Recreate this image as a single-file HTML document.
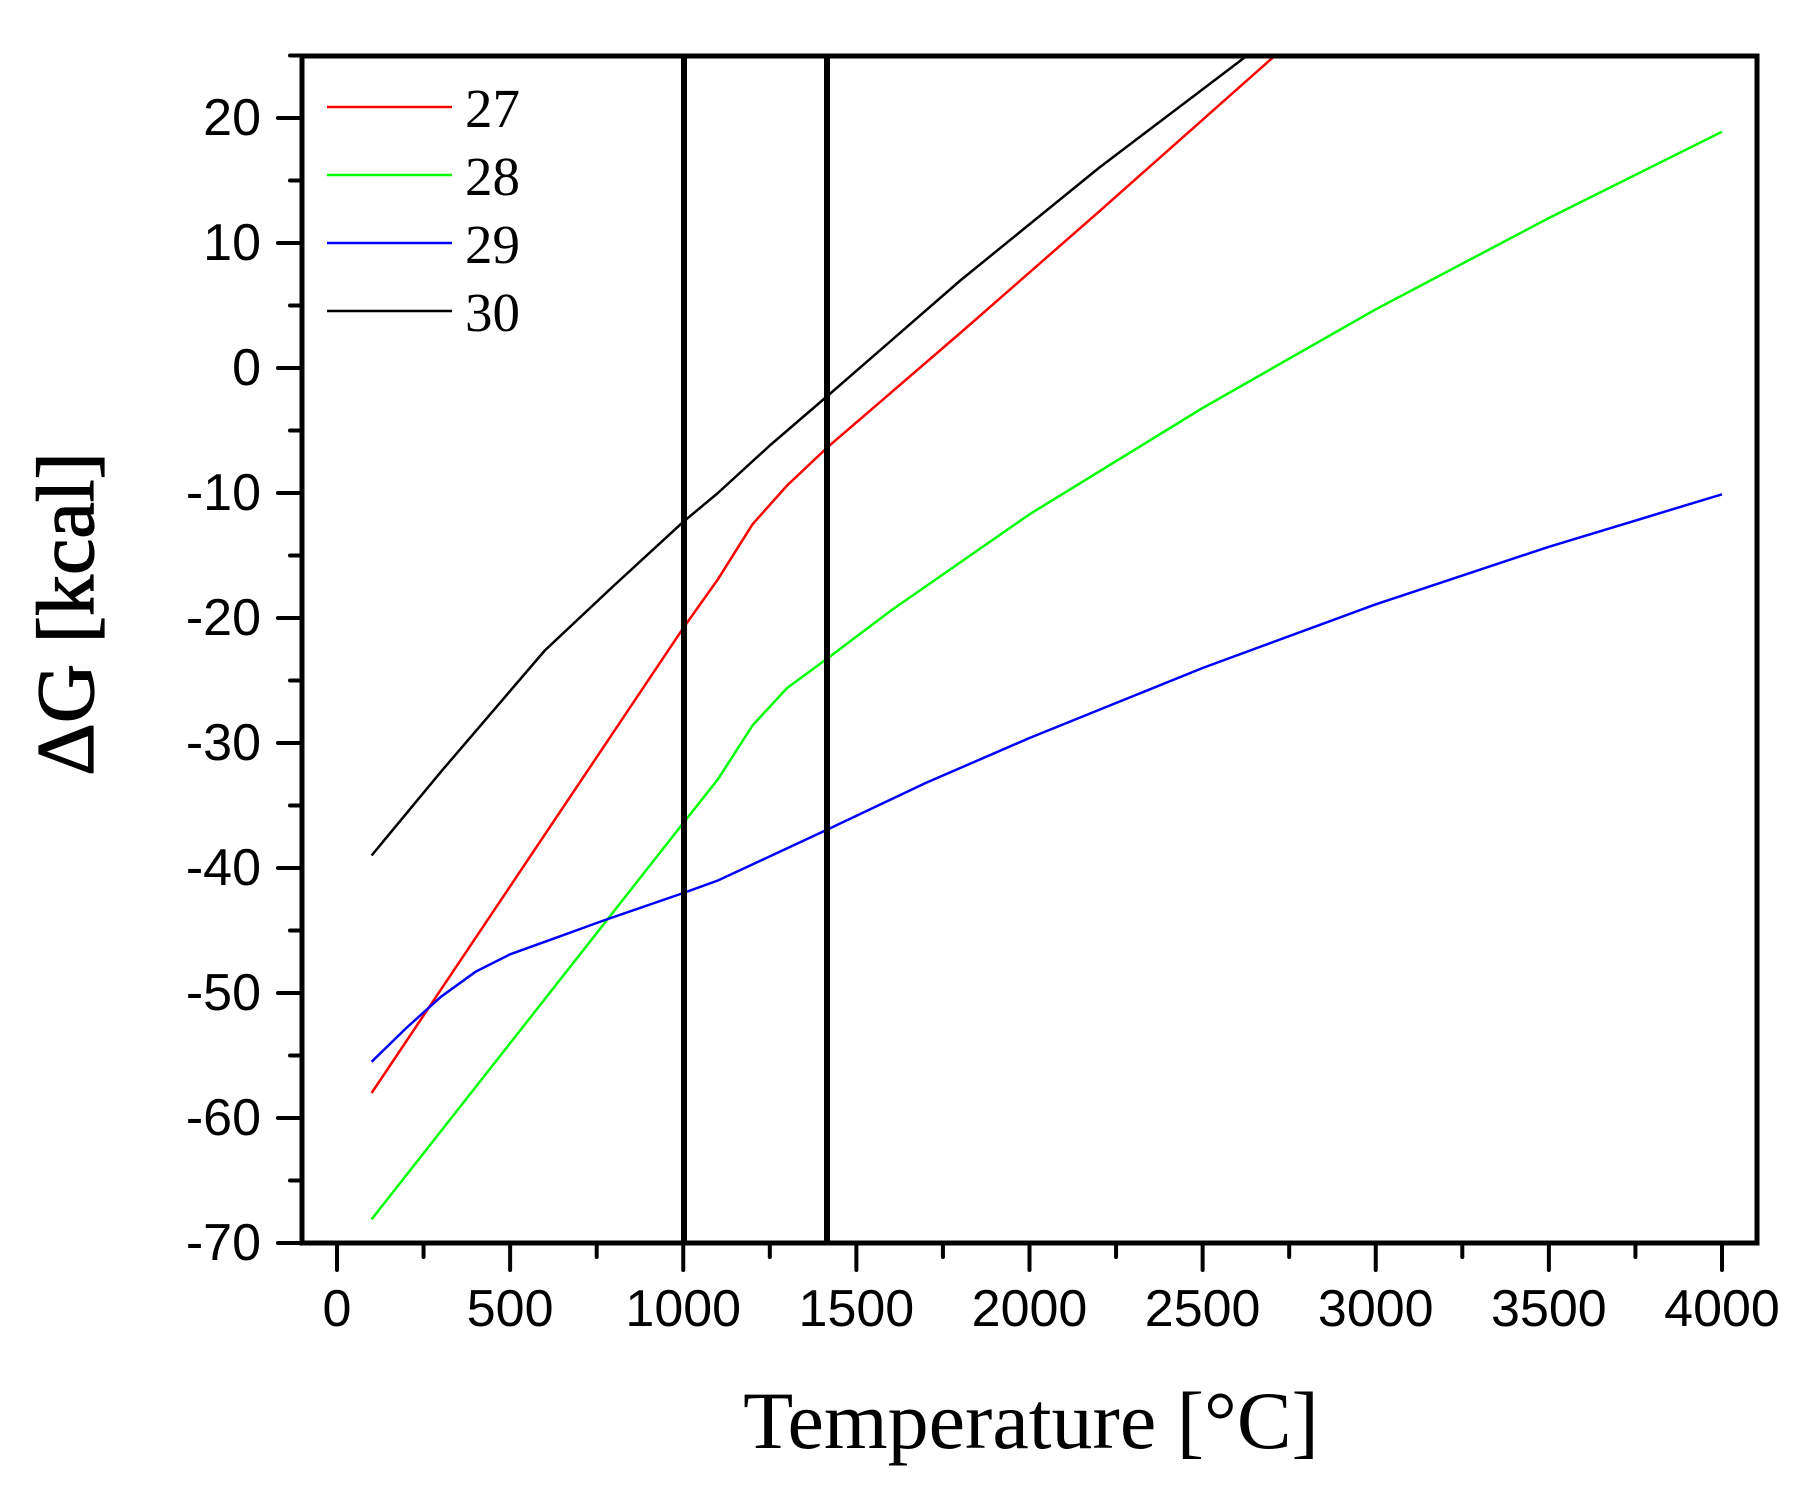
<!DOCTYPE html>
<html><head><meta charset="utf-8"><style>
html,body{margin:0;padding:0;background:#fff;}
svg{display:block;}
</style></head><body>
<svg id="s" width="1796" height="1490" xmlns="http://www.w3.org/2000/svg"></svg>
<script>
const s=document.getElementById('s');
const X=t=>337+t*0.34625, Y=v=>118+(20-v)*12.5;
let h='';
const L=302,R=1757,T=56,B=1243;
h+=`<defs><clipPath id="c"><rect x="${L}" y="${T}" width="${R-L}" height="${B-T}"/></clipPath></defs>`;
function pl(pts,col,w){return `<polyline clip-path="url(#c)" fill="none" stroke="${col}" stroke-width="${w}" stroke-linejoin="round" points="${pts.map(p=>X(p[0]).toFixed(1)+','+Y(p[1]).toFixed(1)).join(' ')}"/>`;}
const black=[[100,-39],[300,-32.3],[600,-22.6],[800,-17.4],[1000,-12.3],[1100,-10],[1250,-6.2],[1418,-2.2],[1800,7],[2200,16],[2700,26.5]];
const red=[[100,-58],[1000,-20.8],[1100,-16.9],[1200,-12.5],[1300,-9.4],[1418,-6.3],[1800,2.8],[2200,12.5],[2750,26]];
const green=[[100,-68.1],[1000,-36.4],[1100,-32.9],[1200,-28.6],[1300,-25.6],[1418,-23.2],[1600,-19.4],[2000,-11.7],[2500,-3.2],[3000,4.7],[3500,12],[4000,18.9]];
const blue=[[100,-55.5],[200,-52.8],[300,-50.3],[400,-48.3],[500,-46.9],[620,-45.7],[770,-44.2],[1000,-42],[1100,-41],[1418,-36.9],[1700,-33.2],[2000,-29.6],[2500,-24],[3000,-18.9],[3500,-14.3],[4000,-10.1]];
h+=pl(black,'#000',2.5)+pl(red,'#f00',2.5)+pl(green,'#0f0',2.5)+pl(blue,'#00f',2.5);
h+=`<line x1="684" y1="${T}" x2="684" y2="${B}" stroke="#000" stroke-width="6"/>`;
h+=`<line x1="827" y1="${T}" x2="827" y2="${B}" stroke="#000" stroke-width="6"/>`;
h+=`<rect x="${L}" y="${T}" width="${R-L}" height="${B-T}" fill="none" stroke="#000" stroke-width="5"/>`;
for(let t=0;t<=4000;t+=250){const x=X(t),maj=t%500==0;
 h+=`<line x1="${x}" y1="${B}" x2="${x}" y2="${B+(maj?27:14)}" stroke="#000" stroke-width="4" stroke-linecap="round"/>`;
 if(maj)h+=`<text x="${x}" y="1326" font-family="Liberation Sans, sans-serif" font-size="52" text-anchor="middle">${t}</text>`;}
for(let v=-70;v<=25;v+=5){const y=Y(v),maj=v%10==0;
 h+=`<line x1="${L}" y1="${y}" x2="${L-(maj?24:12)}" y2="${y}" stroke="#000" stroke-width="4" stroke-linecap="round"/>`;
 if(maj)h+=`<text x="261" y="${y+17}" font-family="Liberation Sans, sans-serif" font-size="52" text-anchor="end">${v}</text>`;}
const lg=[['27','#f00'],['28','#0f0'],['29','#00f'],['30','#000']];
lg.forEach((g,i)=>{const y=107+i*68;
 h+=`<line x1="327" y1="${y}" x2="452" y2="${y}" stroke="${g[1]}" stroke-width="2.5"/>`;
 h+=`<text x="465" y="${y+20}" font-family="Liberation Serif, serif" font-size="55">${g[0]}</text>`;});
h+=`<text x="1031" y="1448" font-family="Liberation Serif, serif" font-size="82" text-anchor="middle">Temperature [°C]</text>`;
h+=`<text transform="translate(93,614) rotate(-90)" font-family="Liberation Serif, serif" font-size="82" stroke="#000" stroke-width="1.2" text-anchor="middle">ΔG [kcal]</text>`;
s.innerHTML=h;
</script>
</body></html>
